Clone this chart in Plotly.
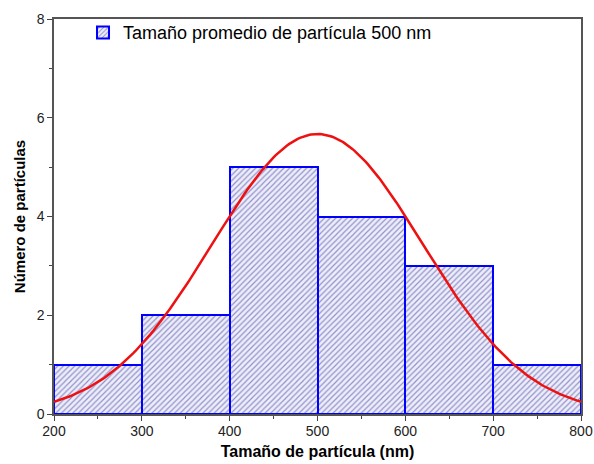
import numpy as np
import plotly.graph_objects as go

# histogram data
bin_centers = [250, 350, 450, 550, 650, 750]
counts = [1, 2, 5, 4, 3, 1]
bin_width = 100

# gaussian fit parameters
fit_center = 500
fit_sigma = 120
fit_amp = 5.67

x_fit = np.linspace(200, 800, 241)
y_fit = fit_amp * np.exp(-((x_fit - fit_center) ** 2) / (2 * fit_sigma ** 2))

fig = go.Figure()

fig.add_trace(go.Bar(
    x=bin_centers,
    y=counts,
    width=bin_width,
    marker=dict(
        color="white",
        line=dict(color="#0000ff", width=2),
        pattern=dict(shape="/", fgcolor="#34349c", bgcolor="#eeeefa",
                     size=4, solidity=0.3),
    ),
    name="Tamaño promedio de partícula 500 nm",
))

fig.add_trace(go.Scatter(
    x=x_fit,
    y=y_fit,
    mode="lines",
    line=dict(color="#ee1111", width=2.5),
    showlegend=False,
))

fig.update_layout(
    width=594,
    height=464,
    margin=dict(l=54, r=13, t=19, b=50),
    plot_bgcolor="white",
    paper_bgcolor="white",
    font=dict(family="Liberation Sans, Arial", size=14, color="black"),
    bargap=0,
    legend=dict(x=0.055, y=1.012, xanchor="left", yanchor="top",
                bgcolor="rgba(0,0,0,0)", font=dict(size=18)),
)

fig.update_xaxes(
    range=[200, 800],
    tickvals=[200, 300, 400, 500, 600, 700, 800],
    tickfont=dict(size=14, color="#222"),
    ticks="outside", ticklen=5, tickcolor="#444", ticklabelstandoff=-2,
    minor=dict(ticks="outside", ticklen=3, dtick=50, tickcolor="#444"),
    showline=True, linecolor="#555", linewidth=1.5, mirror=True,
    showgrid=False, zeroline=False, automargin=False,
    title=dict(text="<b>Tamaño de partícula (nm)</b>", font=dict(size=16), standoff=8),
)

fig.update_yaxes(
    range=[0, 8],
    tickvals=[0, 2, 4, 6, 8],
    tickfont=dict(size=14, color="#222"),
    ticks="outside", ticklen=5, tickcolor="#444",
    minor=dict(ticks="outside", ticklen=3, dtick=1, tickcolor="#444"),
    showline=True, linecolor="#555", linewidth=1.5, mirror=True,
    showgrid=False, zeroline=False, automargin=False,
    title=dict(text="<b>Número de partículas</b>", font=dict(size=15), standoff=7),
)

# drop the default page margin so the figure sits at the window corner
fig.write_html("out.html", config={"displayModeBar": False},
               post_script="document.body.style.margin='0';")
